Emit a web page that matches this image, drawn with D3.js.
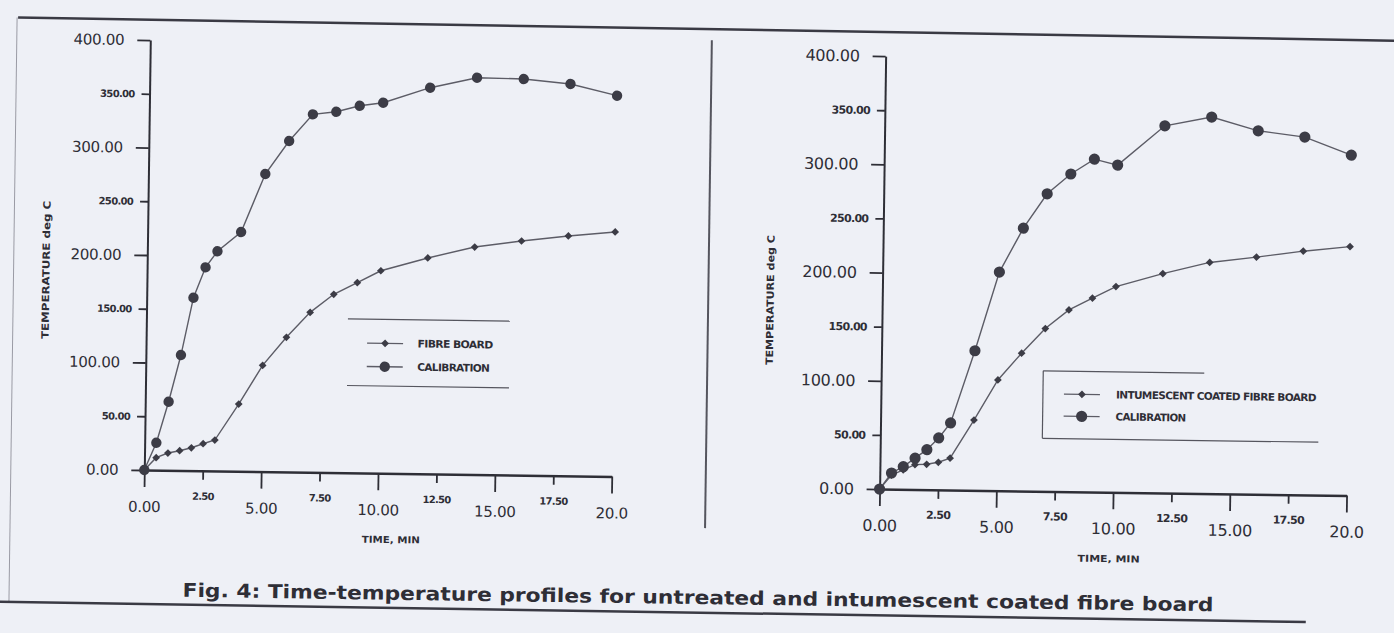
<!DOCTYPE html>
<html>
<head>
<meta charset="utf-8">
<script src="https://cdn.jsdelivr.net/npm/d3@7"></script>
<style>
  body { margin: 0; background: #eef0f6; }
  svg { display: block; }
  text { font-family: "DejaVu Sans", Verdana, sans-serif; fill: #2e2e36; }
</style>
</head>
<body>
<script>
var width = 1394,
  height = 633;

// times (min) shared by all four series
var times = [0, 0.5, 1, 1.5, 2, 2.5, 3, 4, 5, 6, 7, 8, 9, 10, 12, 14, 16, 18, 20];

// left panel: untreated
var fibreBoard = [0, 11.6, 16.1, 18.4, 21.3, 25.2, 28.8, 62.6, 98.9, 125.3, 148.8, 165.9, 177, 188.4, 200.9, 211.7, 217.9, 223.2, 227.5];
var calibrationA = [0, 25.5, 63.8, 107.4, 160.9, 189.3, 204.4, 222.6, 276.9, 307.9, 333, 335.7, 341.6, 344.7, 359.3, 369.2, 368.6, 364.6, 354.3];

// right panel: intumescent coated
var coatedBoard = [0, 13, 18, 23, 23.5, 25.5, 29.5, 65, 102.3, 127.3, 150.4, 167.9, 179.1, 190.1, 202.7, 213.6, 219.1, 225.2, 230];
var calibrationB = [0, 15, 21, 29, 37, 48, 62, 129, 202, 242.8, 274.9, 293.5, 307.5, 302.3, 339.2, 347.9, 335.8, 330.6, 314.5];

var yTicks = [0, 50, 100, 150, 200, 250, 300, 350, 400];
var xTicks = [0, 2.5, 5, 7.5, 10, 12.5, 15, 17.5, 20];
var xTickLabels = ["0.00", "2.50", "5.00", "7.50", "10.00", "12.50", "15.00", "17.50", "20.0"];

var yTitle = "TEMPERATURE deg C",
  xTitle = "TIME, MIN";
var caption = "Fig. 4: Time-temperature profiles for untreated and intumescent coated fibre board";

var ink = "#2e2e36";

var svg = d3.select("body").append("svg")
  .attr("width", width)
  .attr("height", height);

// the scan is tilted a little, so the whole sheet is too
var sheet = svg.append("g").attr("transform", "rotate(0.8 697 316)");

// frame lines of the figure
sheet.append("line").attr("x1", 14).attr("y1", 27).attr("x2", 1400).attr("y2", 31)
  .attr("stroke", "#3a3a44").attr("stroke-width", 2.5);
sheet.append("line").attr("x1", 13).attr("y1", 27).attr("x2", 13).attr("y2", 612)
  .attr("stroke", "#9a9aa4").attr("stroke-width", 1);
sheet.append("line").attr("x1", 0).attr("y1", 611.5).attr("x2", 1310).attr("y2", 613.5)
  .attr("stroke", "#3a3a44").attr("stroke-width", 2.5);
sheet.append("line").attr("x1", 708).attr("y1", 40).attr("x2", 708).attr("y2", 528)
  .attr("stroke", "#55555e").attr("stroke-width", 2);

sheet.append("text")
  .attr("x", 702).attr("y", 604)
  .attr("text-anchor", "middle")
  .attr("font-size", 19).attr("font-weight", "bold")
  .attr("textLength", 1031).attr("lengthAdjust", "spacingAndGlyphs")
  .text(caption);

var diamond = d3.symbol().type(d3.symbolSquare).size(30);

function drawPanel(cfg) {
  var g = sheet.append("g");

  var x = d3.scaleLinear().domain([0, 20]).range(cfg.xRange);
  var y = d3.scaleLinear().domain([0, 400]).range(cfg.yRange);

  // y axis
  var yAxis = g.append("g")
    .attr("transform", "translate(" + cfg.xRange[0] + ",0)")
    .call(d3.axisLeft(y).tickValues(yTicks).tickSizeOuter(0)
      .tickFormat(function(d) { return d.toFixed(2); }));
  yAxis.select(".domain").attr("stroke", ink).attr("stroke-width", 2);
  yAxis.selectAll(".tick line")
    .attr("stroke", ink).attr("stroke-width", 1.8)
    .attr("x2", function(d) { return d % 100 === 0 ? -13 : -8; });
  yAxis.selectAll(".tick text")
    .attr("fill", ink)
    .attr("x", function(d) { return d % 100 === 0 ? -26 : -15; })
    .attr("font-family", "DejaVu Sans")
    .attr("font-size", function(d) { return d % 100 === 0 ? cfg.bigFont : cfg.smallFont; })
    .attr("font-weight", function(d) { return d % 100 === 0 ? "normal" : "bold"; })
    .attr("letter-spacing", function(d) { return d % 100 === 0 ? "-0.3px" : "-0.7px"; });

  // x axis
  var xAxis = g.append("g")
    .attr("transform", "translate(0," + cfg.yRange[0] + ")")
    .call(d3.axisBottom(x).tickValues(xTicks).tickSizeOuter(0)
      .tickFormat(function(d, i) { return xTickLabels[i]; }));
  xAxis.select(".domain").attr("stroke", ink).attr("stroke-width", 2.5);
  xAxis.selectAll(".tick line")
    .attr("stroke", ink).attr("stroke-width", 1.8)
    .attr("y2", function(d) { return d % 5 === 0 ? 17 : 9; });
  xAxis.selectAll(".tick text")
    .attr("fill", ink)
    .attr("dy", 0)
    .attr("y", function(d) { return d % 5 === 0 ? 42 : 29; })
    .attr("font-family", "DejaVu Sans")
    .attr("font-size", function(d) { return d % 5 === 0 ? cfg.bigFont : cfg.smallFont; })
    .attr("font-weight", function(d) { return d % 5 === 0 ? "normal" : "bold"; })
    .attr("letter-spacing", function(d) { return d % 5 === 0 ? "-0.3px" : "-0.7px"; });

  // axis titles
  g.append("text")
    .attr("transform", "translate(" + cfg.yTitle[0] + "," + cfg.yTitle[1] + ") rotate(-90)")
    .attr("text-anchor", "middle").attr("dy", "0.35em")
    .attr("font-size", 10).attr("font-weight", "bold")
    .attr("textLength", cfg.yTitle[2]).attr("lengthAdjust", "spacingAndGlyphs")
    .text(yTitle);
  g.append("text")
    .attr("x", cfg.xTitle[0]).attr("y", cfg.xTitle[1])
    .attr("text-anchor", "middle").attr("dy", "0.35em")
    .attr("font-size", 9.5).attr("font-weight", "bold")
    .attr("textLength", cfg.xTitle[2]).attr("lengthAdjust", "spacingAndGlyphs")
    .text(xTitle);

  var line = d3.line()
    .x(function(d) { return x(d[0]); })
    .y(function(d) { return y(d[1]); });

  cfg.series.forEach(function(s) {
    var pts = times.map(function(t, i) { return [t, s.values[i]]; });
    g.append("path")
      .datum(pts)
      .attr("fill", "none")
      .attr("stroke", "#5c5c66")
      .attr("stroke-width", 1.4)
      .attr("d", line);

    var marks = g.append("g").selectAll(".m")
      .data(pts)
      .enter();
    if (s.shape === "circle") {
      marks.append("circle")
        .attr("cx", function(d) { return x(d[0]); })
        .attr("cy", function(d) { return y(d[1]); })
        .attr("r", cfg.circleR)
        .attr("fill", "#3c3c46");
    } else {
      marks.append("path")
        .attr("d", diamond)
        .attr("transform", function(d) { return "translate(" + x(d[0]) + "," + y(d[1]) + ") rotate(45)"; })
        .attr("fill", "#3c3c46");
    }
  });

  // legend
  var lg = cfg.legend;
  g.append("line").attr("x1", lg.x0).attr("x2", lg.x1).attr("y1", lg.top).attr("y2", lg.top)
    .attr("stroke", "#55555e").attr("stroke-width", 1.2);
  g.append("line").attr("x1", lg.x0).attr("x2", lg.x1b).attr("y1", lg.bottom).attr("y2", lg.bottom)
    .attr("stroke", "#55555e").attr("stroke-width", 1.2);
  if (lg.side) {
    g.append("line").attr("x1", lg.x0).attr("x2", lg.x0).attr("y1", lg.top).attr("y2", lg.bottom)
      .attr("stroke", "#55555e").attr("stroke-width", 1.2);
  }
  cfg.series.forEach(function(s, i) {
    var cy = lg.rows[i];
    g.append("line").attr("x1", lg.sx - 18).attr("x2", lg.sx + 18).attr("y1", cy).attr("y2", cy)
      .attr("stroke", "#5c5c66").attr("stroke-width", 1.4);
    if (s.shape === "circle") {
      g.append("circle").attr("cx", lg.sx).attr("cy", cy).attr("r", cfg.circleR).attr("fill", "#3c3c46");
    } else {
      g.append("path").attr("d", diamond)
        .attr("transform", "translate(" + lg.sx + "," + cy + ") rotate(45)")
        .attr("fill", "#3c3c46");
    }
    g.append("text")
      .attr("x", lg.tx).attr("y", cy).attr("dy", "0.35em")
      .attr("font-size", 10.5).attr("font-weight", "bold")
      .attr("letter-spacing", "-0.6px")
      .attr("textLength", lg.lengths[i]).attr("lengthAdjust", "spacingAndGlyphs")
      .text(s.name);
  });
}

drawPanel({
  xRange: [146.5, 614],
  yRange: [477.7, 47.7],
  bigFont: 15,
  smallFont: 10,
  circleR: 5.2,
  yTitle: [45.5, 279, 138],
  xTitle: [394, 544, 58],
  series: [
    { name: "FIBRE BOARD", values: fibreBoard, shape: "diamond" },
    { name: "CALIBRATION", values: calibrationA, shape: "circle" }
  ],
  legend: { x0: 348, x1: 510, x1b: 510, top: 323.7, bottom: 390.4, side: false,
    sx: 385.5, tx: 418, rows: [347.7, 371.1], lengths: [75, 72] }
});

drawPanel({
  xRange: [882, 1349],
  yRange: [486.5, 53.5],
  bigFont: 16,
  smallFont: 11,
  circleR: 5.6,
  yTitle: [770, 299, 130],
  xTitle: [1112, 553, 62],
  series: [
    { name: "INTUMESCENT COATED FIBRE BOARD", values: coatedBoard, shape: "diamond" },
    { name: "CALIBRATION", values: calibrationB, shape: "circle" }
  ],
  legend: { x0: 1044, x1: 1205, x1b: 1320, top: 366, bottom: 433.5, side: true,
    sx: 1083, tx: 1117, rows: [389, 411], lengths: [200, 70] }
});
</script>
</body>
</html>
